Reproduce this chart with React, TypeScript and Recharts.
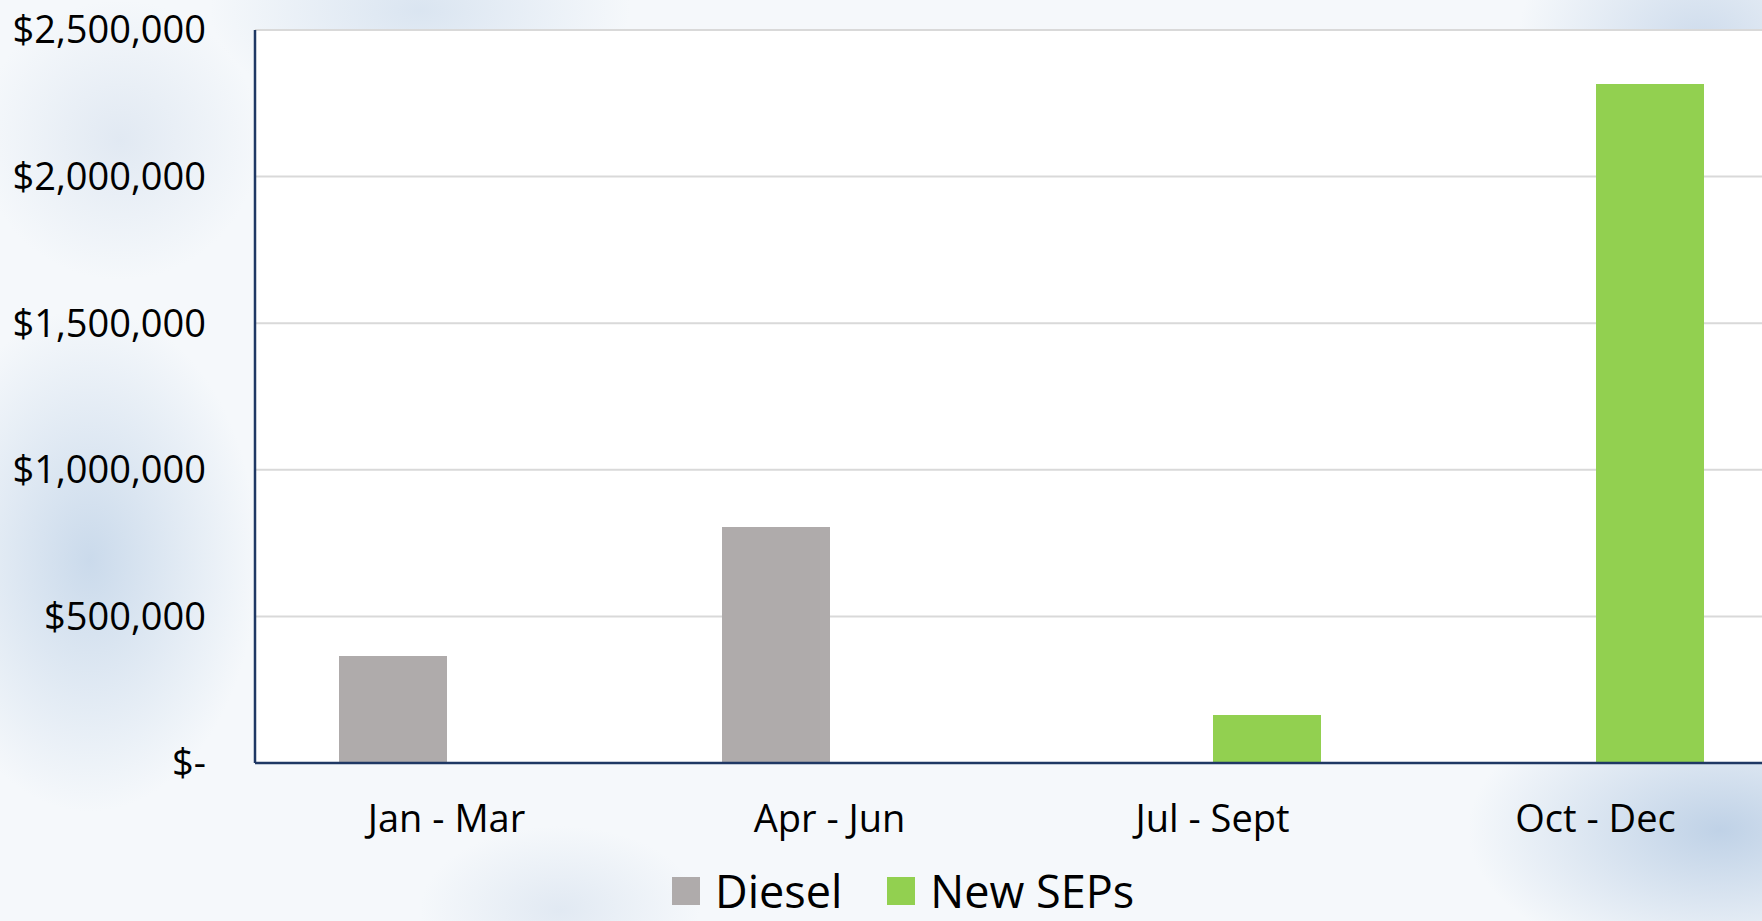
import React from "react";
import {
  BarChart,
  Bar,
  XAxis,
  YAxis,
  CartesianGrid,
  Legend,
} from "recharts";

const quarters = ["Jan - Mar", "Apr - Jun", "Jul - Sept", "Oct - Dec"];
const diesel = [365000, 805000, 0, 0];
const newSeps = [0, 0, 164000, 2316000];
const yTicks = [0, 500000, 1000000, 1500000, 2000000, 2500000];

const seriesNames = ["Diesel", "New SEPs"];
const seriesColors = ["#AFABAB", "#92D050"];

const data = quarters.map((q, i) => ({
  quarter: q,
  diesel: diesel[i],
  newSeps: newSeps[i],
}));

const FONT = "'Open Sans', sans-serif";
const NAVY = "#1F3864";

const formatDollar = (v: number) =>
  v === 0 ? "$-" : "$" + v.toLocaleString("en-US");

const LegendContent = () => (
  <div
    style={{
      display: "flex",
      alignItems: "center",
      height: 44,
      marginTop: -4,
      paddingLeft: 672,
      fontFamily: FONT,
      fontSize: 45,
      lineHeight: "44px",
      color: "#000",
    }}
  >
    {seriesNames.map((name, i) => (
      <div
        key={name}
        style={{ display: "flex", alignItems: "center", marginRight: 45 }}
      >
        <span
          style={{
            display: "inline-block",
            width: 28,
            height: 28,
            background: seriesColors[i],
            marginRight: 15,
          }}
        />
        <span>{name}</span>
      </div>
    ))}
  </div>
);

export default function App() {
  return (
    <div
      style={{
        position: "fixed",
        left: 0,
        top: 0,
        width: 1762,
        height: 921,
        overflow: "hidden",
        background:
          "radial-gradient(ellipse 240px 360px at 90px 560px, rgba(188,208,230,0.75), rgba(188,208,230,0) 70%)," +
          "radial-gradient(ellipse 200px 200px at 120px 140px, rgba(205,218,234,0.5), rgba(205,218,234,0) 70%)," +
          "radial-gradient(ellipse 300px 160px at 420px 10px, rgba(200,216,234,0.6), rgba(200,216,234,0) 70%)," +
          "radial-gradient(ellipse 260px 200px at 1700px 40px, rgba(190,208,230,0.7), rgba(190,208,230,0) 70%)," +
          "radial-gradient(ellipse 360px 200px at 1720px 830px, rgba(182,203,227,0.85), rgba(182,203,227,0) 70%)," +
          "radial-gradient(ellipse 200px 120px at 560px 910px, rgba(205,218,234,0.5), rgba(205,218,234,0) 70%)," +
          "#f5f8fb",
      }}
    >
      <BarChart
        width={1787}
        height={921}
        data={data}
        margin={{ top: 30, right: 0, bottom: 0, left: 0 }}
        barSize={108}
        barGap={0}
      >
        <CartesianGrid
          vertical={false}
          stroke="#D9D9D9"
          strokeWidth={2}
          fill="#ffffff"
          fillOpacity={1}
        />
        <XAxis
          dataKey="quarter"
          height={110}
          tickLine={false}
          tickSize={0}
          tickMargin={42}
          axisLine={{ stroke: NAVY, strokeWidth: 2.5 }}
          tick={{ fill: "#000", fontSize: 38, fontFamily: FONT }}
          interval={0}
        />
        <XAxis
          xAxisId="top"
          dataKey="quarter"
          orientation="top"
          height={0}
          tick={false}
          tickLine={false}
          axisLine={{ stroke: NAVY, strokeWidth: 2.5 }}
        />
        <YAxis
          width={255}
          domain={[0, 2500000]}
          ticks={yTicks}
          tickFormatter={formatDollar}
          tickLine={false}
          tickSize={0}
          tickMargin={49}
          axisLine={{ stroke: NAVY, strokeWidth: 2.5 }}
          tick={{ fill: "#000", fontSize: 38, fontFamily: FONT }}
        />
        <Legend
          verticalAlign="bottom"
          height={48}
          content={<LegendContent />}
        />
        <Bar
          dataKey="diesel"
          name={seriesNames[0]}
          fill={seriesColors[0]}
          isAnimationActive={false}
        />
        <Bar
          dataKey="newSeps"
          name={seriesNames[1]}
          fill={seriesColors[1]}
          isAnimationActive={false}
        />
      </BarChart>
    </div>
  );
}
